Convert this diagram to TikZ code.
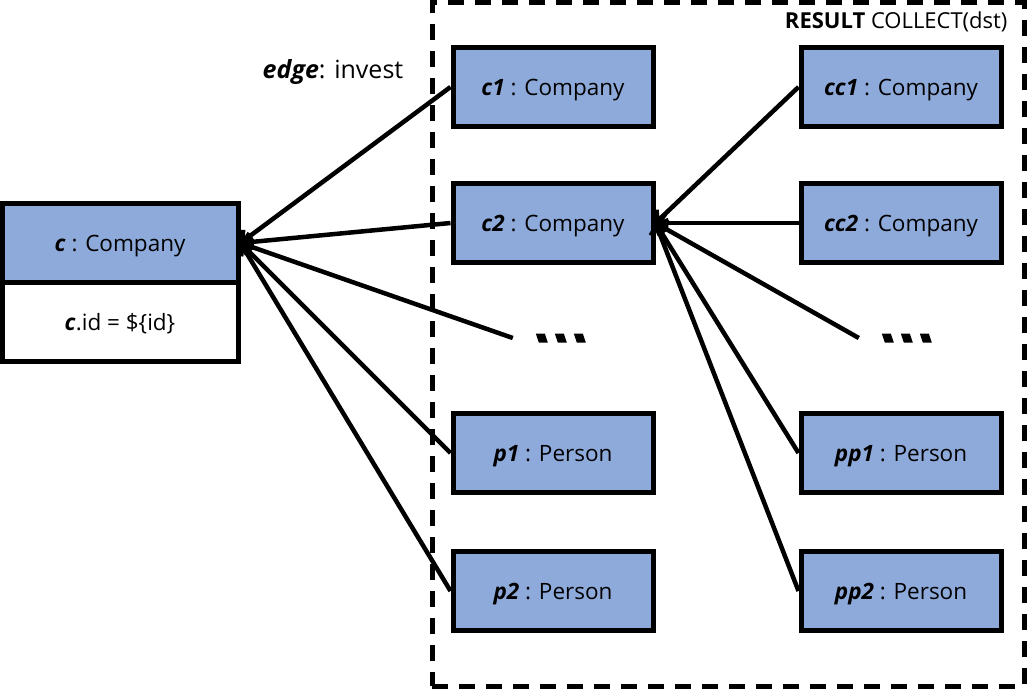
\documentclass[tikz,border=0pt]{standalone}
\usepackage{fontspec}
\setmainfont{Open Sans}
\usetikzlibrary{arrows.meta}
\definecolor{boxblue}{RGB}{142,170,219}

\begin{document}
\begin{tikzpicture}[x=1pt,y=-1pt,
  lbl/.style={font=\fontsize{22.5}{26}\selectfont, text depth=0pt, text height=16pt},
  cls/.style={lbl, draw=black, line width=5pt, fill=boxblue,
    minimum width=200pt, minimum height=79pt, inner sep=0pt},
  attr/.style={lbl, draw=black, line width=5pt, fill=white,
    minimum width=236pt, minimum height=79pt, inner sep=0pt},
  more/.style={minimum width=50pt, minimum height=10pt, inner sep=0pt},
  dot/.style={fill=black},
  link/.style={line width=4.5pt, -{Straight Barb[length=7pt,width=18pt,line width=4.5pt]}},
  group/.style={draw=black, line width=5pt, dash pattern=on 16pt off 11pt,
    minimum width=592pt, minimum height=684pt, inner sep=0pt}]
\useasboundingbox (0,0) rectangle (1028,689);

% result group
\node[group] (res) at (728,344) {};
\node[font=\fontsize{22}{24}\selectfont, anchor=east] (restitle) at (1011,22)
  {\textbf{RESULT} COLLECT(dst)};

% source company with its filter
\node[cls, minimum width=236pt] (c) at (120,243) {\textbf{\textit{c}} : Company};
\node[attr] (cid) at (120,322) {\textbf{\textit{c}}.id = \$\{id\}};

% first hop
\node[cls] (c1) at (553,87) {\textbf{\textit{c1}} : Company};
\node[cls] (c2) at (553,223) {\textbf{\textit{c2}} : Company};
\node[more] (m1) at (560,338) {};
\node[cls] (p1) at (553,453) {\textbf{\textit{p1}} : Person};
\node[cls] (p2) at (553,591) {\textbf{\textit{p2}} : Person};

% second hop
\node[cls] (cc1) at (901,87) {\textbf{\textit{cc1}} : Company};
\node[cls] (cc2) at (901,223) {\textbf{\textit{cc2}} : Company};
\node[more] (m2) at (906,338) {};
\node[cls] (pp1) at (901,453) {\textbf{\textit{pp1}} : Person};
\node[cls] (pp2) at (901,591) {\textbf{\textit{pp2}} : Person};

% slanted ellipsis marks
\foreach \m in {m1,m2}{
  \foreach \k in {0,1,2}{
    \fill[dot] ([xshift=\k*19pt+1pt,yshift=4.5pt]\m.west) -- ++(9pt,0) -- ++(3pt,-9pt)
      -- ++(-9pt,0) -- cycle;
  }
}

\node[font=\fontsize{25}{28}\selectfont] (edgelbl) at (333,72) {\textbf{\textit{edge}}: invest};

% invest edges
\draw[link] (c1.west) -- (c.east);
\draw[link] (c2.west) -- (c.east);
\draw[link] ([xshift=-22pt]m1.west) -- (c.east);
\draw[link] (p1.west) -- (c.east);
\draw[link] (p2.west) -- (c.east);

\draw[link] (cc1.west) -- (c2.east);
\draw[link] (cc2.west) -- (c2.east);
\draw[link] ([xshift=-22pt]m2.west) -- (c2.east);
\draw[link] (pp1.west) -- (c2.east);
\draw[link] (pp2.west) -- (c2.east);
\end{tikzpicture}
\end{document}
